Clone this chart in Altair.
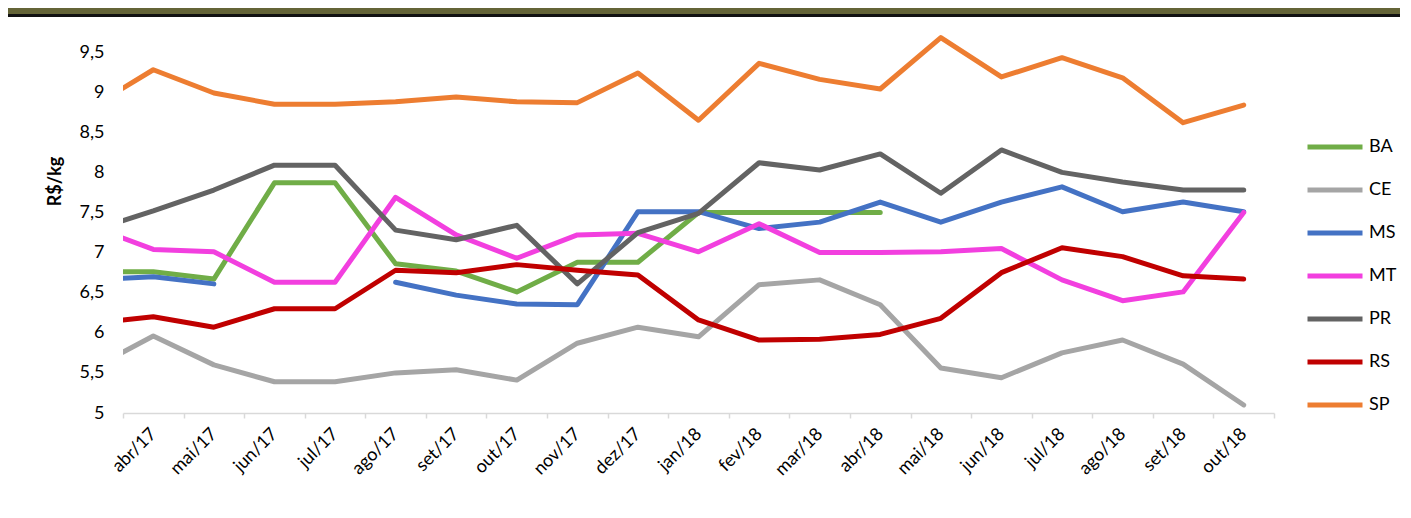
import altair as alt
import pandas as pd
import json

# month categories (first one, mar/17, lies just outside the visible axis)
months = ["mar/17", "abr/17", "mai/17", "jun/17", "jul/17", "ago/17", "set/17", "out/17",
          "nov/17", "dez/17", "jan/18", "fev/18", "mar/18", "abr/18", "mai/18", "jun/18",
          "jul/18", "ago/18", "set/18", "out/18"]
visible_months = months[1:]

BA = [6.76, 6.76, 6.67, 7.87, 7.87, 6.86, 6.77, 6.51, 6.88, 6.88, 7.50, 7.50, 7.50, 7.50,
      None, None, None, None, None, None]
CE = [5.56, 5.96, 5.60, 5.39, 5.39, 5.50, 5.54, 5.41, 5.87, 6.07, 5.95, 6.60, 6.66, 6.35,
      5.56, 5.44, 5.75, 5.91, 5.61, 5.10]
MS = [6.66, 6.70, 6.61, None, None, 6.63, 6.47, 6.36, 6.35, 7.51, 7.51, 7.30, 7.38, 7.63,
      7.38, 7.63, 7.82, 7.51, 7.63, 7.51]
MT = [7.32, 7.04, 7.01, 6.63, 6.63, 7.69, 7.22, 6.93, 7.22, 7.24, 7.01, 7.36, 7.00, 7.00,
      7.01, 7.05, 6.66, 6.40, 6.51, 7.50]
PR = [7.28, 7.52, 7.78, 8.09, 8.09, 7.28, 7.16, 7.34, 6.61, 7.25, 7.49, 8.12, 8.03, 8.23,
      7.74, 8.28, 8.00, 7.88, 7.78, 7.78]
RS = [6.12, 6.20, 6.07, 6.30, 6.30, 6.78, 6.75, 6.85, 6.78, 6.72, 6.16, 5.91, 5.92, 5.98,
      6.18, 6.75, 7.06, 6.95, 6.71, 6.67]
SP = [8.82, 9.28, 8.99, 8.85, 8.85, 8.88, 8.94, 8.88, 8.87, 9.24, 8.65, 9.36, 9.16, 9.04,
      9.68, 9.19, 9.43, 9.18, 8.62, 8.84]

series_names = ["BA", "CE", "MS", "MT", "PR", "RS", "SP"]
series_values = [BA, CE, MS, MT, PR, RS, SP]
series_colors = ["#70AD47", "#A5A5A5", "#4472C4", "#F23FDF", "#636363", "#C00000", "#ED7D31"]
y_ticks = [5, 5.5, 6, 6.5, 7, 7.5, 8, 8.5, 9, 9.5]

rows = []
for name, vals in zip(series_names, series_values):
    seg = 0
    for i, (m, v) in enumerate(zip(months, vals)):
        if v is None:
            seg += 1
            continue
        rows.append({"idx": i - 1, "mes": m, "estado": name, "valor": v,
                     "seg": f"{name}-{seg}"})
df = pd.DataFrame(rows)

FONT = "Lato"
n = len(visible_months)
tick_vals = [i - 0.5 for i in range(n + 1)] + list(range(n))
label_js = json.dumps(visible_months)

lines = alt.Chart(df).mark_line(strokeWidth=5, strokeCap="round", strokeJoin="round",
                                clip=True).encode(
    x=alt.X("idx:Q",
            scale=alt.Scale(domain=[-0.5, n - 0.5], nice=False, zero=False),
            axis=alt.Axis(values=tick_vals, title=None, grid=False,
                          labelExpr=f"datum.value % 1 === 0 ? {label_js}[datum.value] : ''",
                          labelAngle=-45, labelAlign="right", labelBaseline="middle",
                          labelPadding=13, labelFont=FONT, labelFontSize=18,
                          labelColor="#000000", domainColor="#D9D9D9", domainWidth=1.5,
                          tickColor="#D9D9D9", tickSize=5, tickWidth=1.5,
                          tickOpacity=alt.expr("datum.value % 1 === 0 ? 0 : 1"),
                          labelOverlap=False, labelBound=False, labelFlush=False)),
    y=alt.Y("valor:Q",
            scale=alt.Scale(domain=[5, 10], nice=False, zero=False),
            axis=alt.Axis(values=y_ticks, title="R$/kg", grid=False, ticks=False, tickSize=0,
                          domain=False, labelPadding=19, labelFont=FONT, labelFontSize=18,
                          labelColor="#000000",
                          labelExpr="replace(toString(datum.value), '.', ',')",
                          titleFont=FONT, titleFontSize=18, titleFontWeight="bold",
                          titleColor="#000000", titleAngle=270, titleAlign="center",
                          titleBaseline="middle", titleX=-68, titleY=169)),
    color=alt.Color("estado:N",
                    scale=alt.Scale(domain=series_names, range=series_colors),
                    legend=alt.Legend(title=None, orient="none", legendX=1182, legendY=105,
                                      symbolType="stroke", symbolSize=3025,
                                      symbolStrokeWidth=5, labelFont=FONT, labelFontSize=18,
                                      labelColor="#000000", rowPadding=3, labelOffset=4)),
    detail="seg:N",
)

header = alt.Chart(pd.DataFrame({"a": [0]})).mark_rect(color="#646437").encode(
    x=alt.value(-115), x2=alt.value(1277), y=alt.value(-4), y2=alt.value(2))
header_line = alt.Chart(pd.DataFrame({"a": [0]})).mark_rect(color="#111111").encode(
    x=alt.value(-115), x2=alt.value(1277), y=alt.value(2), y2=alt.value(5))

chart = alt.layer(lines, header, header_line).properties(
    width=1151, height=401,
    autosize=alt.AutoSizeParams(type="none"),
    padding={"left": 115, "top": 4, "right": 129, "bottom": 97},
    background="#FFFFFF",
).configure_view(stroke=None)

chart.save("out.html", embed_options={"renderer": "svg", "actions": False})
